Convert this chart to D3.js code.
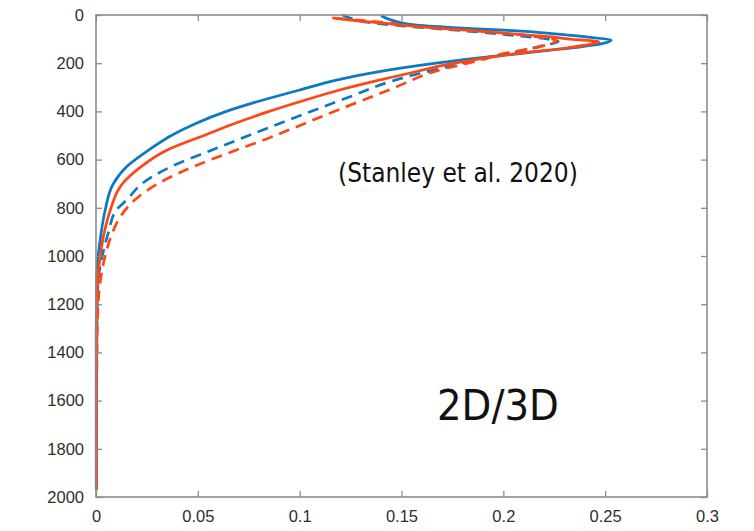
<!DOCTYPE html>
<html>
<head>
<meta charset="utf-8">
<script src="https://cdn.jsdelivr.net/npm/d3@7"></script>
<style>
  html, body { margin: 0; padding: 0; background: #fff; }
  svg { display: block; }
</style>
</head>
<body>
<svg id="chart" width="754" height="531"></svg>
<script>
// Depth profiles (depth in m, value on x axis)
const blueSolidDepth = [2, 15, 28, 41, 52, 62, 73, 83, 95, 104, 118, 132, 147, 160, 180, 200, 235, 270, 311, 360, 400, 450, 500, 560, 630, 700, 810, 905, 1005, 1110, 1300, 1600, 1970];
const blueSolidValue = [0.140, 0.143, 0.148, 0.156, 0.175, 0.198, 0.218, 0.231, 0.245, 0.253, 0.249, 0.238, 0.222, 0.208, 0.186, 0.167, 0.139, 0.118, 0.100, 0.079, 0.064, 0.049, 0.037, 0.026, 0.015, 0.0085, 0.0045, 0.0025, 0.0010, 0.0003, 0.0001, 0.0001, 0.0001];

const redSolidDepth = [12, 21, 33, 48, 62, 76, 90, 101, 111, 125, 140, 158, 200, 249, 270, 310, 360, 400, 450, 500, 560, 630, 700, 810, 905, 1005, 1110, 1224, 1500, 1970];
const redSolidValue = [0.116, 0.125, 0.140, 0.158, 0.180, 0.202, 0.222, 0.234, 0.247, 0.240, 0.228, 0.208, 0.176, 0.150, 0.139, 0.120, 0.100, 0.085, 0.068, 0.053, 0.035, 0.022, 0.013, 0.007, 0.004, 0.002, 0.0008, 0.0004, 0.0002, 0.0002];

const blueDashDepth = [0, 10, 30, 45, 65, 85, 100, 110, 130, 155, 180, 210, 240, 275, 335, 415, 500, 560, 629, 697, 768, 809, 905, 1004, 1112, 1300, 1600, 1970];
const blueDashValue = [0.121, 0.124, 0.133, 0.150, 0.180, 0.205, 0.222, 0.227, 0.218, 0.205, 0.190, 0.175, 0.160, 0.145, 0.126, 0.101, 0.075, 0.057, 0.037, 0.023, 0.015, 0.010, 0.006, 0.003, 0.001, 0.0005, 0.0003, 0.0003];

const redDashDepth = [14, 22, 38, 55, 75, 92, 106, 137, 160, 180, 235, 300, 324, 390, 469, 520, 560, 629, 697, 768, 830, 905, 1004, 1112, 1250, 1400, 1700, 1970];
const redDashValue = [0.118, 0.130, 0.150, 0.175, 0.200, 0.218, 0.226, 0.215, 0.200, 0.192, 0.166, 0.147, 0.140, 0.120, 0.097, 0.082, 0.069, 0.048, 0.031, 0.019, 0.0125, 0.008, 0.0044, 0.002, 0.0008, 0.0005, 0.0003, 0.0003];

const xTicks = [0, 0.05, 0.1, 0.15, 0.2, 0.25, 0.3];
const yTicks = [0, 200, 400, 600, 800, 1000, 1200, 1400, 1600, 1800, 2000];

const svg = d3.select("#chart");
const plotLeft = 96, plotRight = 707, plotTop = 15, plotBottom = 497;

const x = d3.scaleLinear().domain([0, 0.3]).range([plotLeft, plotRight]);
const y = d3.scaleLinear().domain([0, 2000]).range([plotTop, plotBottom]);

const axisColor = "#8c8c8c";
const labelColor = "#2e2e2e";
const tickFont = "'Liberation Sans', Arial, Helvetica, sans-serif";

// Series, drawn dashed first so solid lines sit above
const series = [
  { depth: blueDashDepth, value: blueDashValue, color: "#0c79c2", dash: "11,7" },
  { depth: redDashDepth, value: redDashValue, color: "#ff4716", dash: "11,7" },
  { depth: blueSolidDepth, value: blueSolidValue, color: "#0c79c2", dash: null },
  { depth: redSolidDepth, value: redSolidValue, color: "#ff4716", dash: null }
];

const line = d3.line()
  .x(d => x(d[1]))
  .y(d => y(d[0]))
  .curve(d3.curveMonotoneY);

const plot = svg.append("g");
series.forEach(s => {
  const pts = s.depth.map((d, i) => [d, s.value[i]]);
  plot.append("path")
    .attr("d", line(pts))
    .attr("fill", "none")
    .attr("stroke", s.color)
    .attr("stroke-width", 2.7)
    .attr("stroke-linejoin", "round")
    .attr("stroke-dasharray", s.dash);
});

// Axes with inward ticks on all four sides
const axisStyle = g => {
  g.select(".domain").remove();
  g.selectAll(".tick line").attr("stroke", axisColor).attr("stroke-width", 1.3);
  g.selectAll(".tick text").attr("fill", labelColor)
    .style("font-family", tickFont).style("font-size", "16.5px");
};

svg.append("g").attr("transform", `translate(0,${plotBottom})`)
  .call(d3.axisBottom(x).tickValues(xTicks).tickSize(-6).tickPadding(13)
    .tickFormat(d => d3.format("~g")(d)))
  .call(axisStyle);

svg.append("g").attr("transform", `translate(0,${plotTop})`)
  .call(d3.axisTop(x).tickValues(xTicks).tickSize(-6).tickFormat(""))
  .call(axisStyle);

svg.append("g").attr("transform", `translate(${plotLeft},0)`)
  .call(d3.axisLeft(y).tickValues(yTicks).tickSize(-6).tickPadding(12)
    .tickFormat(d3.format("d")))
  .call(axisStyle);

svg.append("g").attr("transform", `translate(${plotRight},0)`)
  .call(d3.axisRight(y).tickValues(yTicks).tickSize(-6).tickFormat(""))
  .call(axisStyle);

// Frame
svg.append("rect")
  .attr("x", plotLeft).attr("y", plotTop)
  .attr("width", plotRight - plotLeft).attr("height", plotBottom - plotTop)
  .attr("fill", "none").attr("stroke", axisColor).attr("stroke-width", 1.6);

// Annotations
svg.append("text")
  .attr("x", 338).attr("y", 182)
  .style("font-family", "'DejaVu Sans Condensed', 'DejaVu Sans', sans-serif")
  .style("font-size", "26px")
  .attr("fill", "#111")
  .text("(Stanley et al. 2020)");

svg.append("text")
  .attr("x", 437).attr("y", 420)
  .style("font-family", "'DejaVu Sans Condensed', 'DejaVu Sans', sans-serif")
  .style("font-size", "43px")
  .attr("fill", "#111")
  .text("2D/3D");
</script>
</body>
</html>
